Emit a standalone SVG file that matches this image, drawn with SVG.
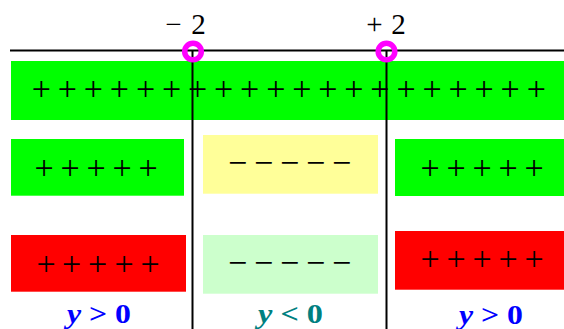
<svg xmlns="http://www.w3.org/2000/svg" width="564" height="329" viewBox="0 0 564 329">
<style>
.sig{font-family:"Liberation Serif","Times New Roman",serif;font-size:34px;fill:#000;text-anchor:middle}
.tick{font-family:"Liberation Serif","Times New Roman",serif;font-size:29px;fill:#000;text-anchor:middle}
.lbl{font-family:"Liberation Serif","Times New Roman",serif;font-size:27px;font-weight:bold}
.line{stroke:#000;stroke-width:2;fill:none}
.root{stroke:#FF00FF;stroke-width:5.5;fill:none}
</style>
<rect width="564" height="329" fill="#fff"/>
<g id="bar-total">
<rect x="11" y="61" width="553" height="59" fill="#00FF00"/>
<text class="sig" x="41.3 67.35 93.4 119.45 145.5 171.55 197.6 223.65 249.7 275.75 301.8 327.85 353.9 379.95 406 432.05 458.1 484.15 510.2 536.25" y="100.3">++++++++++++++++++++</text>
</g>
<g id="f1-left">
<rect x="11" y="139" width="173" height="56.7" fill="#00FF00"/>
<text class="sig" x="44 70 96 122 148" y="178.6">+++++</text>
</g>
<g id="f1-mid">
<rect x="203" y="135" width="175" height="58.7" fill="#FFFF99"/>
<text class="sig" x="237.7 263.7 289.7 315.7 341.7" y="174">−−−−−</text>
</g>
<g id="f1-right">
<rect x="395" y="139" width="169" height="57" fill="#00FF00"/>
<text class="sig" x="430 456 482 508 534" y="178.6">+++++</text>
</g>
<g id="f2-left">
<rect x="11" y="235" width="175" height="56.7" fill="#FF0000"/>
<text class="sig" x="46 71.7 97.7 124 150" y="274.6">+++++</text>
</g>
<g id="f2-mid">
<rect x="203" y="235" width="175" height="58.7" fill="#CCFFCC"/>
<text class="sig" x="237.7 263.7 289.7 315.7 341.7" y="274">−−−−−</text>
</g>
<g id="f2-right">
<rect x="395" y="231" width="169" height="58.7" fill="#FF0000"/>
<text class="sig" x="430 456 482 508 534" y="270.3">+++++</text>
</g>
<g id="connectors">
<line class="line" x1="10" y1="50.5" x2="564" y2="50.5"/>
<line class="line" x1="192.5" y1="50.5" x2="192.5" y2="329"/>
<line class="line" x1="386.5" y1="50.5" x2="386.5" y2="329"/>
</g>
<g id="root-minus2">
<circle class="root" cx="193" cy="51.5" r="8.3"/>
<text class="tick" x="173.5 198.5" y="34">−2</text>
</g>
<g id="root-plus2">
<circle class="root" cx="386.5" cy="51.5" r="8.3"/>
<text class="tick" x="374.5 398.5" y="34">+2</text>
</g>
<g id="label-left">
<text class="lbl" x="67" y="323" fill="#0000FF" textLength="64" lengthAdjust="spacingAndGlyphs"><tspan font-style="italic">y</tspan> &gt; 0</text>
</g>
<g id="label-mid">
<text class="lbl" x="258" y="323" fill="#008080" textLength="65" lengthAdjust="spacingAndGlyphs"><tspan font-style="italic">y</tspan> &lt; 0</text>
</g>
<g id="label-right">
<text class="lbl" x="459" y="323.5" fill="#0000FF" textLength="64" lengthAdjust="spacingAndGlyphs"><tspan font-style="italic">y</tspan> &gt; 0</text>
</g>
</svg>
